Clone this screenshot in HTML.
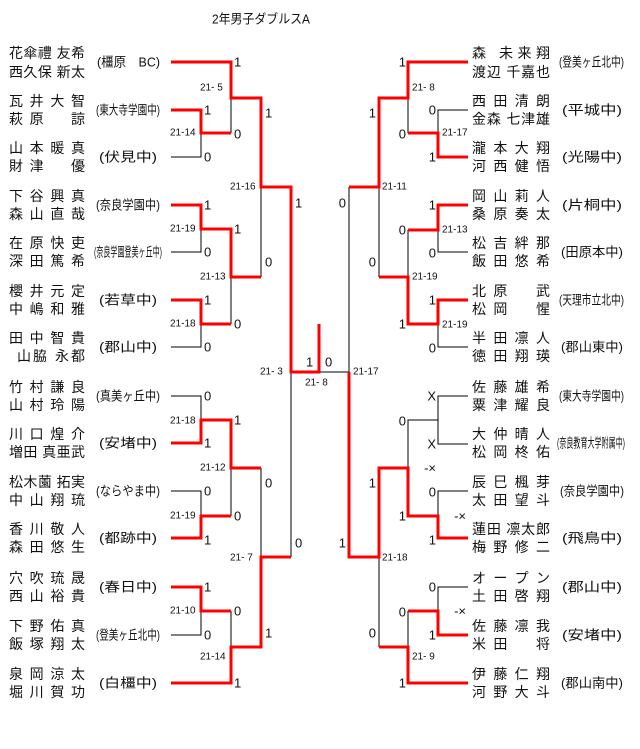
<!DOCTYPE html>
<html><head><meta charset="utf-8"><style>
html,body{margin:0;padding:0;background:#fff;}
svg{display:block;}
text{font-family:"Liberation Sans","Noto Sans CJK JP",sans-serif;fill:#111;dominant-baseline:central;}
.n{font-size:14px;}
.s{font-size:13px;}
.c{font-size:13px;fill:#1a2540;}
.l{font-size:10px;}
.r{fill:none;stroke:#ff0000;stroke-width:3;stroke-linejoin:miter;stroke-linecap:butt;}
.b{fill:none;stroke:#000;stroke-width:1;}
</style></head><body>
<svg width="640" height="749" viewBox="0 0 640 749" xmlns="http://www.w3.org/2000/svg">
<text x="212" y="19" class="s" textLength="98" lengthAdjust="spacingAndGlyphs">2年男子ダブルスA</text>

<!-- black lines -->
<path class="b" d="M171,157H201V133 M231,98V133 M171,252H201V229 M171,347H201V324 M231,277V324 M261,187V277
M171,396H201V420 M171,491H201V516 M231,468V516 M171,635H201V611 M231,611V647 M261,468V557 M291,372V557 M319,372H349
M468,110H438V133 M408,98V133 M468,252H438V230 M468,347H438V324 M408,230V277 M379,187V277 M349,187V372
M468,396H438V444H468 M438,420H408V468 M468,491H438V516 M468,587H438V611 M408,611V647 M379,557V647"/>
<!-- red lines -->
<path class="r" d="M171,62H231V98H261V187H291V372H319V324
M171,110H201V133H231 M171,205H201V229H231V277H261 M171,300H201V324H231
M171,443H201V420H231V468H261 M171,538H201V516H231 M171,587H201V611H231 M171,683H231V647H261V557H291
M468,62H408V98H379V187H349 M468,157H438V133H408 M468,205H438V230H408 M468,300H438V324H408V277H379
M468,538H438V516H408V468H379V557H349V372 M468,635H438V611H408 M468,683H408V647H379"/>

<!-- left names -->
<g class="n">
<text x="9" y="53" textLength="76" lengthAdjust="spacing">花傘禮 友希</text><text x="9" y="72" textLength="76" lengthAdjust="spacing">西久保 新太</text>
<text x="9" y="101" textLength="76" lengthAdjust="spacing">瓦 井 大 智</text><text x="9" y="119" textLength="76" lengthAdjust="spacing">萩 原 　 諒</text>
<text x="9" y="148" textLength="76" lengthAdjust="spacing">山 本 暖 真</text><text x="9" y="166" textLength="76" lengthAdjust="spacing">財 津 　 優</text>
<text x="9" y="196" textLength="76" lengthAdjust="spacing">下 谷 興 真</text><text x="9" y="214" textLength="76" lengthAdjust="spacing">森 山 直 哉</text>
<text x="9" y="243" textLength="76" lengthAdjust="spacing">在 原 快 吏</text><text x="9" y="261" textLength="76" lengthAdjust="spacing">深 田 篤 希</text>
<text x="9" y="291" textLength="76" lengthAdjust="spacing">櫻 井 元 定</text><text x="9" y="309" textLength="76" lengthAdjust="spacing">中 嶋 和 雅</text>
<text x="9" y="338" textLength="76" lengthAdjust="spacing">田 中 智 貴</text><text x="17" y="356" textLength="68" lengthAdjust="spacing">山脇 永都</text>
<text x="9" y="387" textLength="76" lengthAdjust="spacing">竹 村 謙 良</text><text x="9" y="405" textLength="76" lengthAdjust="spacing">山 村 玲 陽</text>
<text x="9" y="434" textLength="76" lengthAdjust="spacing">川 口 煌 介</text><text x="9" y="452" textLength="76" lengthAdjust="spacing">増田 真亜武</text>
<text x="9" y="482" textLength="76" lengthAdjust="spacing">松木薗 拓実</text><text x="9" y="500" textLength="76" lengthAdjust="spacing">中 山 翔 琉</text>
<text x="9" y="529" textLength="76" lengthAdjust="spacing">香 川 敬 人</text><text x="9" y="547" textLength="76" lengthAdjust="spacing">森 田 悠 生</text>
<text x="9" y="578" textLength="76" lengthAdjust="spacing">穴 吹 琉 晟</text><text x="9" y="596" textLength="76" lengthAdjust="spacing">西 山 裕 貴</text>
<text x="9" y="626" textLength="76" lengthAdjust="spacing">下 野 佑 真</text><text x="9" y="644" textLength="76" lengthAdjust="spacing">飯 塚 翔 太</text>
<text x="9" y="674" textLength="76" lengthAdjust="spacing">泉 岡 涼 太</text><text x="9" y="692" textLength="76" lengthAdjust="spacing">堀 川 賀 功</text>
</g>
<!-- left schools -->
<g class="s">
<text x="97" y="62" textLength="63" lengthAdjust="spacingAndGlyphs">(橿原　BC)</text>
<text x="96" y="110" textLength="64" lengthAdjust="spacingAndGlyphs">(東大寺学園中)</text>
<text x="99" y="157" textLength="58" lengthAdjust="spacingAndGlyphs">(伏見中)</text>
<text x="96" y="205" textLength="64" lengthAdjust="spacingAndGlyphs">(奈良学園中)</text>
<text x="94" y="252" textLength="68" lengthAdjust="spacingAndGlyphs">(奈良学園登美ヶ丘中)</text>
<text x="99" y="300" textLength="58" lengthAdjust="spacingAndGlyphs">(若草中)</text>
<text x="99" y="347" textLength="58" lengthAdjust="spacingAndGlyphs">(郡山中)</text>
<text x="96" y="396" textLength="64" lengthAdjust="spacingAndGlyphs">(真美ヶ丘中)</text>
<text x="99" y="443" textLength="58" lengthAdjust="spacingAndGlyphs">(安堵中)</text>
<text x="96" y="491" textLength="64" lengthAdjust="spacingAndGlyphs">(ならやま中)</text>
<text x="99" y="538" textLength="58" lengthAdjust="spacingAndGlyphs">(都跡中)</text>
<text x="99" y="587" textLength="58" lengthAdjust="spacingAndGlyphs">(春日中)</text>
<text x="96" y="635" textLength="64" lengthAdjust="spacingAndGlyphs">(登美ヶ丘北中)</text>
<text x="99" y="683" textLength="58" lengthAdjust="spacingAndGlyphs">(白橿中)</text>
</g>

<!-- right names -->
<g class="n">
<text x="472" y="53" textLength="78" lengthAdjust="spacing">森 未来翔</text><text x="472" y="72" textLength="78" lengthAdjust="spacing">渡辺 千嘉也</text>
<text x="472" y="101" textLength="78" lengthAdjust="spacing">西 田 清 朗</text><text x="472" y="119" textLength="78" lengthAdjust="spacing">金森 七津雄</text>
<text x="472" y="148" textLength="78" lengthAdjust="spacing">瀧 本 大 翔</text><text x="472" y="166" textLength="78" lengthAdjust="spacing">河 西 健 悟</text>
<text x="472" y="196" textLength="78" lengthAdjust="spacing">岡 山 莉 人</text><text x="472" y="214" textLength="78" lengthAdjust="spacing">桑 原 奏 太</text>
<text x="472" y="243" textLength="78" lengthAdjust="spacing">松 吉 絆 那</text><text x="472" y="261" textLength="78" lengthAdjust="spacing">飯 田 悠 希</text>
<text x="472" y="291" textLength="78" lengthAdjust="spacing">北 原 　 武</text><text x="472" y="309" textLength="78" lengthAdjust="spacing">松 岡 　 惺</text>
<text x="472" y="338" textLength="78" lengthAdjust="spacing">半 田 凛 人</text><text x="472" y="356" textLength="78" lengthAdjust="spacing">徳 田 翔 瑛</text>
<text x="472" y="387" textLength="78" lengthAdjust="spacing">佐 藤 雄 希</text><text x="472" y="405" textLength="78" lengthAdjust="spacing">粟 津 耀 良</text>
<text x="472" y="434" textLength="78" lengthAdjust="spacing">大 仲 晴 人</text><text x="472" y="452" textLength="78" lengthAdjust="spacing">松 岡 柊 佑</text>
<text x="472" y="482" textLength="78" lengthAdjust="spacing">辰 巳 楓 芽</text><text x="472" y="500" textLength="78" lengthAdjust="spacing">太 田 望 斗</text>
<text x="472" y="529" textLength="78" lengthAdjust="spacing">蓮田 凛太郎</text><text x="472" y="547" textLength="78" lengthAdjust="spacing">梅 野 修 二</text>
<text x="472" y="578" textLength="78" lengthAdjust="spacing">オ ー プ ン</text><text x="472" y="596" textLength="78" lengthAdjust="spacing">土 田 啓 翔</text>
<text x="472" y="626" textLength="78" lengthAdjust="spacing">佐 藤 凛 我</text><text x="472" y="644" textLength="78" lengthAdjust="spacing">米 田 　 将</text>
<text x="472" y="674" textLength="78" lengthAdjust="spacing">伊 藤 仁 翔</text><text x="472" y="692" textLength="78" lengthAdjust="spacing">河 野 大 斗</text>
</g>
<!-- right schools -->
<g class="s">
<text x="559" y="62" textLength="65" lengthAdjust="spacingAndGlyphs">(登美ヶ丘北中)</text>
<text x="562" y="110" textLength="60" lengthAdjust="spacingAndGlyphs">(平城中)</text>
<text x="562" y="157" textLength="60" lengthAdjust="spacingAndGlyphs">(光陽中)</text>
<text x="562" y="205" textLength="60" lengthAdjust="spacingAndGlyphs">(片桐中)</text>
<text x="561" y="252" textLength="62" lengthAdjust="spacingAndGlyphs">(田原本中)</text>
<text x="559" y="300" textLength="65" lengthAdjust="spacingAndGlyphs">(天理市立北中)</text>
<text x="561" y="347" textLength="62" lengthAdjust="spacingAndGlyphs">(郡山東中)</text>
<text x="559" y="396" textLength="65" lengthAdjust="spacingAndGlyphs">(東大寺学園中)</text>
<text x="557" y="443" textLength="68" lengthAdjust="spacingAndGlyphs">(奈良教育大学附属中)</text>
<text x="560" y="491" textLength="64" lengthAdjust="spacingAndGlyphs">(奈良学園中)</text>
<text x="562" y="538" textLength="60" lengthAdjust="spacingAndGlyphs">(飛鳥中)</text>
<text x="562" y="587" textLength="60" lengthAdjust="spacingAndGlyphs">(郡山中)</text>
<text x="562" y="635" textLength="60" lengthAdjust="spacingAndGlyphs">(安堵中)</text>
<text x="561" y="683" textLength="62" lengthAdjust="spacingAndGlyphs">(郡山南中)</text>
</g>

<!-- scores left -->
<g class="c">
<text x="234" y="62">1</text><text x="204" y="110">1</text><text x="204" y="157">0</text><text x="234" y="134">0</text>
<text x="265" y="113">1</text><text x="295" y="203">1</text>
<text x="204" y="205">1</text><text x="204" y="252">0</text><text x="234" y="229">1</text><text x="265" y="262">0</text>
<text x="204" y="300">1</text><text x="204" y="347">0</text><text x="234" y="324">0</text>
<text x="306" y="362">1</text><text x="325" y="362">0</text>
<text x="204" y="396">0</text><text x="204" y="443">1</text><text x="234" y="420">1</text>
<text x="204" y="491">0</text><text x="204" y="540">1</text><text x="234" y="516">0</text>
<text x="265" y="483">0</text><text x="295" y="543">0</text>
<text x="204" y="587">1</text><text x="204" y="635">0</text><text x="234" y="611">0</text>
<text x="265" y="633">1</text><text x="234" y="683">1</text>
</g>
<!-- scores right -->
<g class="c" text-anchor="end">
<text x="406" y="62" text-anchor="end">1</text><text x="436" y="110" text-anchor="end">0</text><text x="436" y="157" text-anchor="end">1</text>
<text x="406" y="134" text-anchor="end">0</text><text x="376" y="113" text-anchor="end">1</text><text x="346" y="203" text-anchor="end">0</text>
<text x="436" y="205" text-anchor="end">1</text><text x="406" y="230" text-anchor="end">0</text><text x="436" y="253" text-anchor="end">0</text>
<text x="376" y="262" text-anchor="end">0</text>
<text x="436" y="300" text-anchor="end">1</text><text x="406" y="324" text-anchor="end">1</text><text x="436" y="348" text-anchor="end">0</text>
<text x="436" y="396" text-anchor="end">X</text><text x="406" y="421" text-anchor="end">0</text><text x="436" y="444" text-anchor="end">X</text>
<text x="436" y="468" text-anchor="end">-×</text><text x="376" y="483" text-anchor="end">1</text>
<text x="436" y="492" text-anchor="end">0</text><text x="406" y="516" text-anchor="end">1</text><text x="466" y="516" text-anchor="end">-×</text>
<text x="436" y="540" text-anchor="end">1</text><text x="346" y="543" text-anchor="end">1</text>
<text x="436" y="587" text-anchor="end">0</text><text x="406" y="612" text-anchor="end">0</text><text x="466" y="611" text-anchor="end">-×</text>
<text x="436" y="635" text-anchor="end">1</text><text x="376" y="633" text-anchor="end">0</text><text x="406" y="683" text-anchor="end">1</text>
</g>
<!-- match labels -->
<g class="l">
<text x="200" y="88">21- 5</text><text x="170" y="133">21-14</text><text x="230" y="187">21-16</text>
<text x="170" y="229">21-19</text><text x="200" y="277">21-13</text><text x="170" y="324">21-18</text>
<text x="260" y="372">21- 3</text><text x="305" y="383">21- 8</text><text x="353" y="372">21-17</text>
<text x="170" y="421">21-18</text><text x="200" y="468">21-12</text><text x="170" y="516">21-19</text>
<text x="230" y="558">21- 7</text><text x="170" y="611">21-10</text><text x="200" y="657">21-14</text>
<text x="412" y="88">21- 8</text><text x="442" y="133">21-17</text><text x="382" y="187">21-11</text>
<text x="442" y="230">21-13</text><text x="412" y="277">21-19</text><text x="442" y="325">21-19</text>
<text x="382" y="558">21-18</text><text x="412" y="657">21- 9</text>
</g>
</svg>
</body></html>
